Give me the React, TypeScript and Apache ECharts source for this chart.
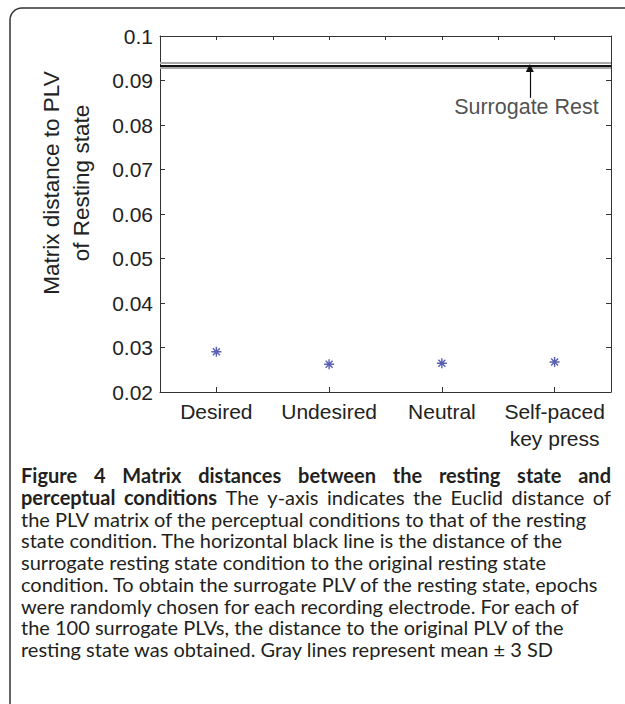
import React, { useEffect, useRef } from 'react';
import * as echarts from 'echarts';

// ---------- data ----------
const categories = ['Desired', 'Undesired', 'Neutral', 'Self-paced\nkey press'];
const distances = [0.02905, 0.02624, 0.02646, 0.02675];
const surrogateMean = 0.0934;
const surrogateUpper = 0.094;
const surrogateLower = 0.0928;
const yMin = 0.02;
const yMax = 0.1;
const yStep = 0.01;
const yAxisNameLines = ['Matrix distance to PLV', 'of Resting state'];
const annotationText = 'Surrogate Rest';
const annotationArrowX = 3.78;
const annotationArrowFrom = 0.0861;
const annotationLabelX = 3.75;
const annotationLabelY = 0.084;
// [text, number of bold words, justified]
const captionLines: [string, number, boolean][] = [
  ['Figure 4 Matrix distances between the resting state and', 99, true],
  ['perceptual conditions The y-axis indicates the Euclid distance of', 2, true],
  ['the PLV matrix of the perceptual conditions to that of the resting', 0, false],
  ['state condition. The horizontal black line is the distance of the', 0, false],
  ['surrogate resting state condition to the original resting state', 0, false],
  ['condition. To obtain the surrogate PLV of the resting state, epochs', 0, false],
  ['were randomly chosen for each recording electrode. For each of', 0, false],
  ['the 100 surrogate PLVs, the distance to the original PLV of the', 0, false],
  ['resting state was obtained. Gray lines represent mean \u00b1 3 SD', 0, false],
];

const AX = 'Liberation Sans, Arial, sans-serif';
const CAP_FONT = 'Lato';
const CAP_SIZE = 20;
const CAP_LEFT = 21;
const CAP_RIGHT = 611;
const CAP_TOP = 475;
const CAP_STEP = 21.75;

const asterisk = 'path://M10 0L10 20M0 10L20 10M3 3L17 17M3 17L17 3';

function buildCaption(): any[] {
  const ctx = document.createElement('canvas').getContext('2d') as CanvasRenderingContext2D;
  const els: any[] = [];
  captionLines.forEach(([text, boldCount, justify], i) => {
    const y = CAP_TOP + i * CAP_STEP;
    const words = text.split(' ');
    const fonts = words.map((_, k) => `${k < boldCount ? 'bold ' : ''}${CAP_SIZE}px ${CAP_FONT}`);
    if (justify) {
      const widths = words.map((w, k) => {
        ctx.font = fonts[k];
        return ctx.measureText(w).width;
      });
      const total = widths.reduce((a, b) => a + b, 0);
      const gap = (CAP_RIGHT - CAP_LEFT - total) / (words.length - 1);
      let x = CAP_LEFT;
      words.forEach((w, k) => {
        els.push({
          type: 'text',
          x,
          y,
          style: { text: w, font: fonts[k], fill: '#231f20', textAlign: 'left', textVerticalAlign: 'middle' },
        });
        x += widths[k] + gap;
      });
    } else {
      els.push({
        type: 'text',
        x: CAP_LEFT,
        y,
        style: { text, font: fonts[0], fill: '#231f20', textAlign: 'left', textVerticalAlign: 'middle' },
      });
    }
  });
  return els;
}

export default function App() {
  const ref = useRef<HTMLDivElement>(null);
  useEffect(() => {
    if (!ref.current) return;
    const chart = echarts.init(ref.current, undefined, { renderer: 'svg' });
    const axisLine = { show: true, onZero: false, lineStyle: { color: '#333', width: 1 } };
    const option: any = {
      animation: false,
      backgroundColor: '#fff',
      grid: { left: 160, right: 14, top: 36, bottom: 312, containLabel: false },
      xAxis: [
        {
          type: 'category',
          position: 'bottom',
          data: categories,
          boundaryGap: true,
          axisLine,
          axisTick: { show: true, inside: true, alignWithLabel: true, length: 5, lineStyle: { color: '#333' } },
          axisLabel: { color: '#222', fontSize: 21, fontFamily: AX, lineHeight: 27, margin: 6, interval: 0 },
          splitLine: { show: false },
        },
        {
          type: 'value',
          position: 'top',
          min: 0.5,
          max: 4.5,
          interval: 0.5,
          axisLine,
          axisTick: { show: true, inside: true, length: 4, lineStyle: { color: '#333' } },
          axisLabel: { show: false },
          splitLine: { show: false },
        },
      ],
      yAxis: [
        {
          type: 'value',
          position: 'left',
          min: yMin,
          max: yMax,
          interval: yStep,
          axisLine,
          axisTick: { show: true, inside: true, length: 5, lineStyle: { color: '#333' } },
          axisLabel: {
            color: '#222',
            fontSize: 21,
            fontFamily: AX,
            margin: 7,
            formatter: (v: number) => String(parseFloat(v.toFixed(2))),
          },
          splitLine: { show: false },
        },
        {
          type: 'value',
          position: 'right',
          min: yMin,
          max: yMax,
          interval: yStep,
          axisLine,
          axisTick: { show: true, inside: true, length: 5, lineStyle: { color: '#333' } },
          axisLabel: { show: false },
          splitLine: { show: false },
        },
      ],
      series: [
        {
          type: 'scatter',
          xAxisIndex: 0,
          yAxisIndex: 0,
          data: distances,
          symbol: asterisk,
          symbolSize: 10,
          itemStyle: { color: 'rgba(0,0,0,0)', borderColor: '#2f37a0', borderWidth: 1.4 },
          markLine: {
            silent: true,
            precision: 6,
            symbol: ['none', 'none'],
            label: { show: false },
            data: [
              { yAxis: surrogateUpper, lineStyle: { color: '#a8a8a8', width: 2, type: 'solid' } },
              { yAxis: surrogateLower, lineStyle: { color: '#a8a8a8', width: 2, type: 'solid' } },
              { yAxis: surrogateMean, lineStyle: { color: '#111', width: 2, type: 'solid' } },
            ],
          },
        },
        {
          type: 'scatter',
          xAxisIndex: 1,
          yAxisIndex: 0,
          data: [[annotationLabelX, annotationLabelY]],
          symbolSize: 0,
          silent: true,
          z: 5,
          label: {
            show: true,
            position: 'inside',
            formatter: annotationText,
            color: '#222',
            fontSize: 21.5,
            fontFamily: AX,
          },
          markLine: {
            silent: true,
            precision: 6,
            z: 10,
            symbol: ['none', 'triangle'],
            symbolSize: 8,
            label: { show: false },
            itemStyle: { color: '#111' },
            lineStyle: { color: '#111', width: 1.2, type: 'solid' },
            data: [
              [
                { coord: [annotationArrowX, annotationArrowFrom] },
                { coord: [annotationArrowX, surrogateLower] },
              ],
            ],
          },
        },
      ],
      graphic: [
        {
          type: 'rect',
          shape: { x: 10, y: 8, width: 720, height: 800, r: 12 },
          style: { fill: 'none', stroke: '#333', lineWidth: 1.5 },
          silent: true,
        },
        {
          type: 'text',
          x: 66,
          y: 183,
          rotation: Math.PI / 2,
          style: {
            text: yAxisNameLines.join('\n'),
            fill: '#222',
            fontSize: 22.5,
            fontFamily: AX,
            lineHeight: 30,
            textAlign: 'center',
            textVerticalAlign: 'middle',
          },
        },
        ...buildCaption(),
      ],
    };
    chart.setOption(option);
    return () => chart.dispose();
  }, []);
  return <div ref={ref} style={{ position: 'absolute', left: 0, top: 0, width: 625, height: 704 }} />;
}
